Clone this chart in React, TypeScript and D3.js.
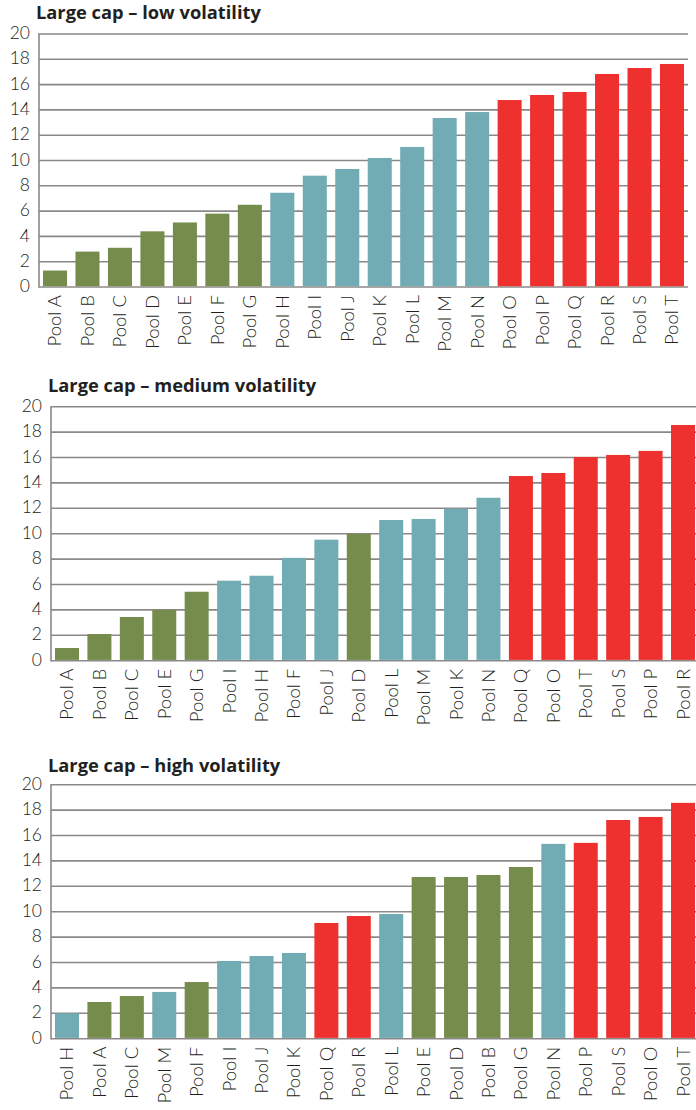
import React, { useEffect, useRef } from "react";
import * as d3 from "d3";

const lowNames = ["Pool A","Pool B","Pool C","Pool D","Pool E","Pool F","Pool G","Pool H","Pool I","Pool J","Pool K","Pool L","Pool M","Pool N","Pool O","Pool P","Pool Q","Pool R","Pool S","Pool T"];
const lowValues = [1.3,2.8,3.1,4.4,5.1,5.8,6.5,7.45,8.8,9.33,10.2,11.07,13.36,13.83,14.78,15.18,15.42,16.84,17.31,17.63];
const lowGroups = ["g","g","g","g","g","g","g","t","t","t","t","t","t","t","r","r","r","r","r","r"];

const medNames = ["Pool A","Pool B","Pool C","Pool E","Pool G","Pool I","Pool H","Pool F","Pool J","Pool D","Pool L","Pool M","Pool K","Pool N","Pool Q","Pool O","Pool T","Pool S","Pool P","Pool R"];
const medValues = [1.0,2.1,3.44,4.0,5.43,6.3,6.69,8.1,9.53,10.0,11.08,11.16,11.97,12.83,14.54,14.78,16.04,16.2,16.52,18.56];
const medGroups = ["g","g","g","g","g","t","t","t","t","g","t","t","t","t","r","r","r","r","r","r"];

const highNames = ["Pool H","Pool A","Pool C","Pool M","Pool F","Pool I","Pool J","Pool K","Pool Q","Pool R","Pool L","Pool E","Pool D","Pool B","Pool G","Pool N","Pool P","Pool S","Pool O","Pool T"];
const highValues = [2.0,2.89,3.36,3.68,4.46,6.12,6.51,6.75,9.11,9.66,9.82,12.73,12.73,12.89,13.52,15.34,15.42,17.22,17.46,18.57];
const highGroups = ["t","g","g","t","g","t","t","t","r","r","t","g","g","g","g","t","r","r","r","r"];

const titles = ["Large cap – low volatility", "Large cap – medium volatility", "Large cap – high volatility"];
const yTicks = [0, 2, 4, 6, 8, 10, 12, 14, 16, 18, 20];

const groupColors: Record<string, string> = { g: "#758c4c", t: "#71abb3", r: "#ee312e" };

const layouts = [
  { titleX: 36, titleY: 19, left: 39, right: 688, gridRight: 688, top: 34, zero: 287 },
  { titleX: 48, titleY: 392, left: 51, right: 699, gridRight: 696, top: 406.7, zero: 660.7 },
  { titleX: 48, titleY: 772, left: 51, right: 699, gridRight: 696, top: 784.7, zero: 1038.7 },
];

export default function App() {
  const ref = useRef<SVGSVGElement>(null);
  useEffect(() => {
    const svg = d3.select(ref.current);
    svg.selectAll("*").remove();
    const datasets = [
      { names: lowNames, values: lowValues, groups: lowGroups },
      { names: medNames, values: medValues, groups: medGroups },
      { names: highNames, values: highValues, groups: highGroups },
    ];
    datasets.forEach((ds, ci) => {
      const L = layouts[ci];
      const g = svg.append("g");
      const x = d3.scaleBand<string>().domain(ds.names).range([L.left, L.right]).paddingInner(0.26).paddingOuter(0.123);
      const y = d3.scaleLinear().domain([0, 20]).range([L.zero, L.top]);

      g.append("text")
        .attr("x", L.titleX).attr("y", L.titleY)
        .attr("font-family", "'Open Sans', sans-serif").attr("font-weight", 700)
        .attr("font-size", 18.3).attr("fill", "#231f20")
        .text(titles[ci]);

      g.selectAll("line.grid").data(yTicks).join("line")
        .attr("class", "grid")
        .attr("x1", L.left).attr("x2", L.gridRight)
        .attr("y1", (d) => y(d)).attr("y2", (d) => y(d))
        .attr("stroke", "#8c8889").attr("stroke-width", 1.6);

      g.append("line")
        .attr("x1", L.left).attr("x2", L.left)
        .attr("y1", y(20) - 0.8).attr("y2", y(0) + 0.8)
        .attr("stroke", "#8c8889").attr("stroke-width", 1.6);

      g.selectAll("text.ytick").data(yTicks).join("text")
        .attr("class", "ytick")
        .attr("x", L.left - 9).attr("y", (d) => y(d) - 1)
        .attr("dy", "0.35em").attr("text-anchor", "end")
        .attr("font-family", "Lato, sans-serif").attr("font-weight", 300)
        .attr("font-size", 17.5).attr("fill", "#231f20")
        .text((d) => String(d));

      g.selectAll("rect.bar").data(ds.values).join("rect")
        .attr("class", "bar")
        .attr("x", (_d, i) => x(ds.names[i]) as number)
        .attr("width", x.bandwidth())
        .attr("y", (d) => y(d))
        .attr("height", (d) => y(0) - y(d) - 0.8)
        .attr("fill", (_d, i) => groupColors[ds.groups[i]]);

      g.selectAll("text.xlab").data(ds.names).join("text")
        .attr("class", "xlab")
        .attr("transform", (d) => `translate(${(x(d) as number) + x.bandwidth() / 2},${L.zero + 8}) rotate(-90)`)
        .attr("dy", "0.35em").attr("text-anchor", "end")
        .attr("font-family", "Lato, sans-serif").attr("font-weight", 300)
        .attr("font-size", 18.5).attr("fill", "#231f20")
        .text((d) => d);
    });
  }, []);
  return (
    <svg ref={ref} width={696} height={1110} style={{ position: "absolute", left: 0, top: 0, background: "#fff" }} />
  );
}
